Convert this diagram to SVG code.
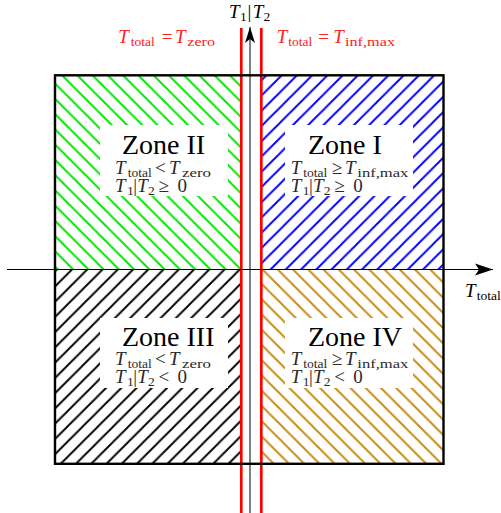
<svg xmlns="http://www.w3.org/2000/svg" width="501" height="513" viewBox="0 0 501 513">
<style>
text{font-family:"Liberation Serif","Times New Roman",serif;}
.title{font-size:28px;fill:#000;}
.m{font-size:19px;fill:#2a2a2a;}
.lab{font-size:19px;fill:#000;}
.red{font-size:19px;fill:#ff2020;}
.i{font-style:italic;}
.s{font-size:13.5px;}
.hatch{stroke-width:1.9;fill:none;}
.box{fill:#fff;}
</style>
<defs>
<pattern id="pGreen" patternUnits="userSpaceOnUse" x="2" y="0" width="15.25" height="15.25">
<path class="hatch" stroke="#00e600" d="M-2,-2 L17.25,17.25 M-2,13.25 L2,17.25 M13.25,-2 L17.25,2"/>
</pattern>
<pattern id="pBlue" patternUnits="userSpaceOnUse" x="6.25" y="0" width="15.25" height="15.25">
<path class="hatch" stroke="#0000ff" d="M-2,17.25 L17.25,-2 M-2,2 L2,-2 M13.25,17.25 L17.25,13.25"/>
</pattern>
<pattern id="pBlack" patternUnits="userSpaceOnUse" x="6" y="0" width="15.25" height="15.25">
<path class="hatch" stroke="#000" d="M-2,17.25 L17.25,-2 M-2,2 L2,-2 M13.25,17.25 L17.25,13.25"/>
</pattern>
<pattern id="pOrange" patternUnits="userSpaceOnUse" x="8.25" y="0" width="15.25" height="15.25">
<path class="hatch" stroke="#c98a12" d="M-2,-2 L17.25,17.25 M-2,13.25 L2,17.25 M13.25,-2 L17.25,2"/>
</pattern>
<marker id="arrH" markerUnits="userSpaceOnUse" markerWidth="20" markerHeight="14" refX="18" refY="6" orient="auto" overflow="visible">
<path d="M18,6 L0,0 L4,6 L0,12 Z" fill="#000"/>
</marker>
<marker id="arrV" markerUnits="userSpaceOnUse" markerWidth="20" markerHeight="12" refX="16" refY="5" orient="auto" overflow="visible">
<path d="M16,5 L0,0 L4,5 L0,10 Z" fill="#000"/>
</marker>
</defs>

<g id="zone2">
<rect x="55" y="75.3" width="186.3" height="194.2" fill="url(#pGreen)"/>
<rect class="box" x="100" y="125" width="128" height="71"/>
<text class="title" x="122" y="154">Zone II</text>
<text class="m"><tspan class="i" x="115" y="174">T</tspan><tspan class="s" x="127.7" y="176.5">total</tspan><tspan x="155" y="174">&lt;</tspan><tspan class="i" x="169" y="174">T</tspan><tspan class="s" x="182" y="176.5" textLength="29" lengthAdjust="spacingAndGlyphs">zero</tspan></text>
<text class="m"><tspan class="i" x="115" y="192">T</tspan><tspan class="s" x="127" y="194.5">1</tspan><tspan x="133.3" y="192">|</tspan><tspan class="i" x="137.3" y="192">T</tspan><tspan class="s" x="148" y="194.5">2</tspan><tspan x="158.5" y="192">≥</tspan><tspan x="177.5" y="192">0</tspan></text>
</g>

<g id="zone1">
<rect x="261.3" y="75.3" width="182.2" height="194.2" fill="url(#pBlue)"/>
<rect class="box" x="285" y="125" width="128" height="71"/>
<text class="title" x="308" y="154">Zone I</text>
<text class="m"><tspan class="i" x="290.7" y="174">T</tspan><tspan class="s" x="303.3" y="176.5">total</tspan><tspan x="331.7" y="174">≥</tspan><tspan class="i" x="345" y="174">T</tspan><tspan class="s" x="357.3" y="176.5" textLength="51" lengthAdjust="spacingAndGlyphs">inf,max</tspan></text>
<text class="m"><tspan class="i" x="290.7" y="192">T</tspan><tspan class="s" x="302.7" y="194.5">1</tspan><tspan x="309" y="192">|</tspan><tspan class="i" x="313" y="192">T</tspan><tspan class="s" x="323.7" y="194.5">2</tspan><tspan x="334.2" y="192">≥</tspan><tspan x="353.2" y="192">0</tspan></text>
</g>

<g id="zone3">
<rect x="55" y="269.5" width="186.3" height="194.3" fill="url(#pBlack)"/>
<rect class="box" x="100" y="318" width="128" height="70"/>
<text class="title" x="122" y="346">Zone III</text>
<text class="m"><tspan class="i" x="115" y="365">T</tspan><tspan class="s" x="127.7" y="367.5">total</tspan><tspan x="155" y="365">&lt;</tspan><tspan class="i" x="169" y="365">T</tspan><tspan class="s" x="182" y="367.5" textLength="29" lengthAdjust="spacingAndGlyphs">zero</tspan></text>
<text class="m"><tspan class="i" x="115" y="383">T</tspan><tspan class="s" x="127" y="385.5">1</tspan><tspan x="133.3" y="383">|</tspan><tspan class="i" x="137.3" y="383">T</tspan><tspan class="s" x="148" y="385.5">2</tspan><tspan x="158.5" y="383">&lt;</tspan><tspan x="177.5" y="383">0</tspan></text>
</g>

<g id="zone4">
<rect x="261.3" y="269.5" width="182.2" height="194.3" fill="url(#pOrange)"/>
<rect class="box" x="285" y="318" width="128" height="70"/>
<text class="title" x="308" y="346">Zone IV</text>
<text class="m"><tspan class="i" x="290.7" y="365">T</tspan><tspan class="s" x="303.3" y="367.5">total</tspan><tspan x="331.7" y="365">≥</tspan><tspan class="i" x="345" y="365">T</tspan><tspan class="s" x="357.3" y="367.5" textLength="51" lengthAdjust="spacingAndGlyphs">inf,max</tspan></text>
<text class="m"><tspan class="i" x="290.7" y="383">T</tspan><tspan class="s" x="302.7" y="385.5">1</tspan><tspan x="309" y="383">|</tspan><tspan class="i" x="313" y="383">T</tspan><tspan class="s" x="323.7" y="385.5">2</tspan><tspan x="334.2" y="383">&lt;</tspan><tspan x="353.2" y="383">0</tspan></text>
</g>

<g id="boundaries">
<line x1="241.3" y1="28" x2="241.3" y2="513" stroke="#ff0000" stroke-width="2.7"/>
<line x1="261.3" y1="28" x2="261.3" y2="513" stroke="#ff0000" stroke-width="2.7"/>
<text class="red"><tspan class="i" x="118.3" y="43">T</tspan><tspan class="s" x="130.7" y="45.5">total</tspan><tspan x="161.7" y="43">=</tspan><tspan class="i" x="175" y="43">T</tspan><tspan class="s" x="187.3" y="45.5" textLength="27.7" lengthAdjust="spacingAndGlyphs">zero</tspan></text>
<text class="red"><tspan class="i" x="276.7" y="43">T</tspan><tspan class="s" x="288.3" y="45.5">total</tspan><tspan x="318.3" y="43">=</tspan><tspan class="i" x="333.3" y="43">T</tspan><tspan class="s" x="345" y="45.5" textLength="50" lengthAdjust="spacingAndGlyphs">inf,max</tspan></text>
</g>

<g id="frame">
<rect x="55" y="75.3" width="388.5" height="388.5" fill="none" stroke="#000" stroke-width="2.4"/>
</g>

<g id="connectors">
<line x1="7" y1="269.5" x2="493" y2="269.5" stroke="#000" stroke-width="1" marker-end="url(#arrH)"/>
<line x1="250" y1="513" x2="250" y2="27" stroke="#000" stroke-width="1" marker-end="url(#arrV)"/>
</g>

<g id="axis-labels">
<text class="lab"><tspan class="i" x="229" y="18.3">T</tspan><tspan class="s" x="240" y="20.8">1</tspan><tspan x="247.5" y="18.3">|</tspan><tspan class="i" x="252.7" y="18.3">T</tspan><tspan class="s" x="263.5" y="20.8">2</tspan></text>
<text class="lab"><tspan class="i" x="465" y="297">T</tspan><tspan class="s" x="476.7" y="299.5">total</tspan></text>
</g>
</svg>
